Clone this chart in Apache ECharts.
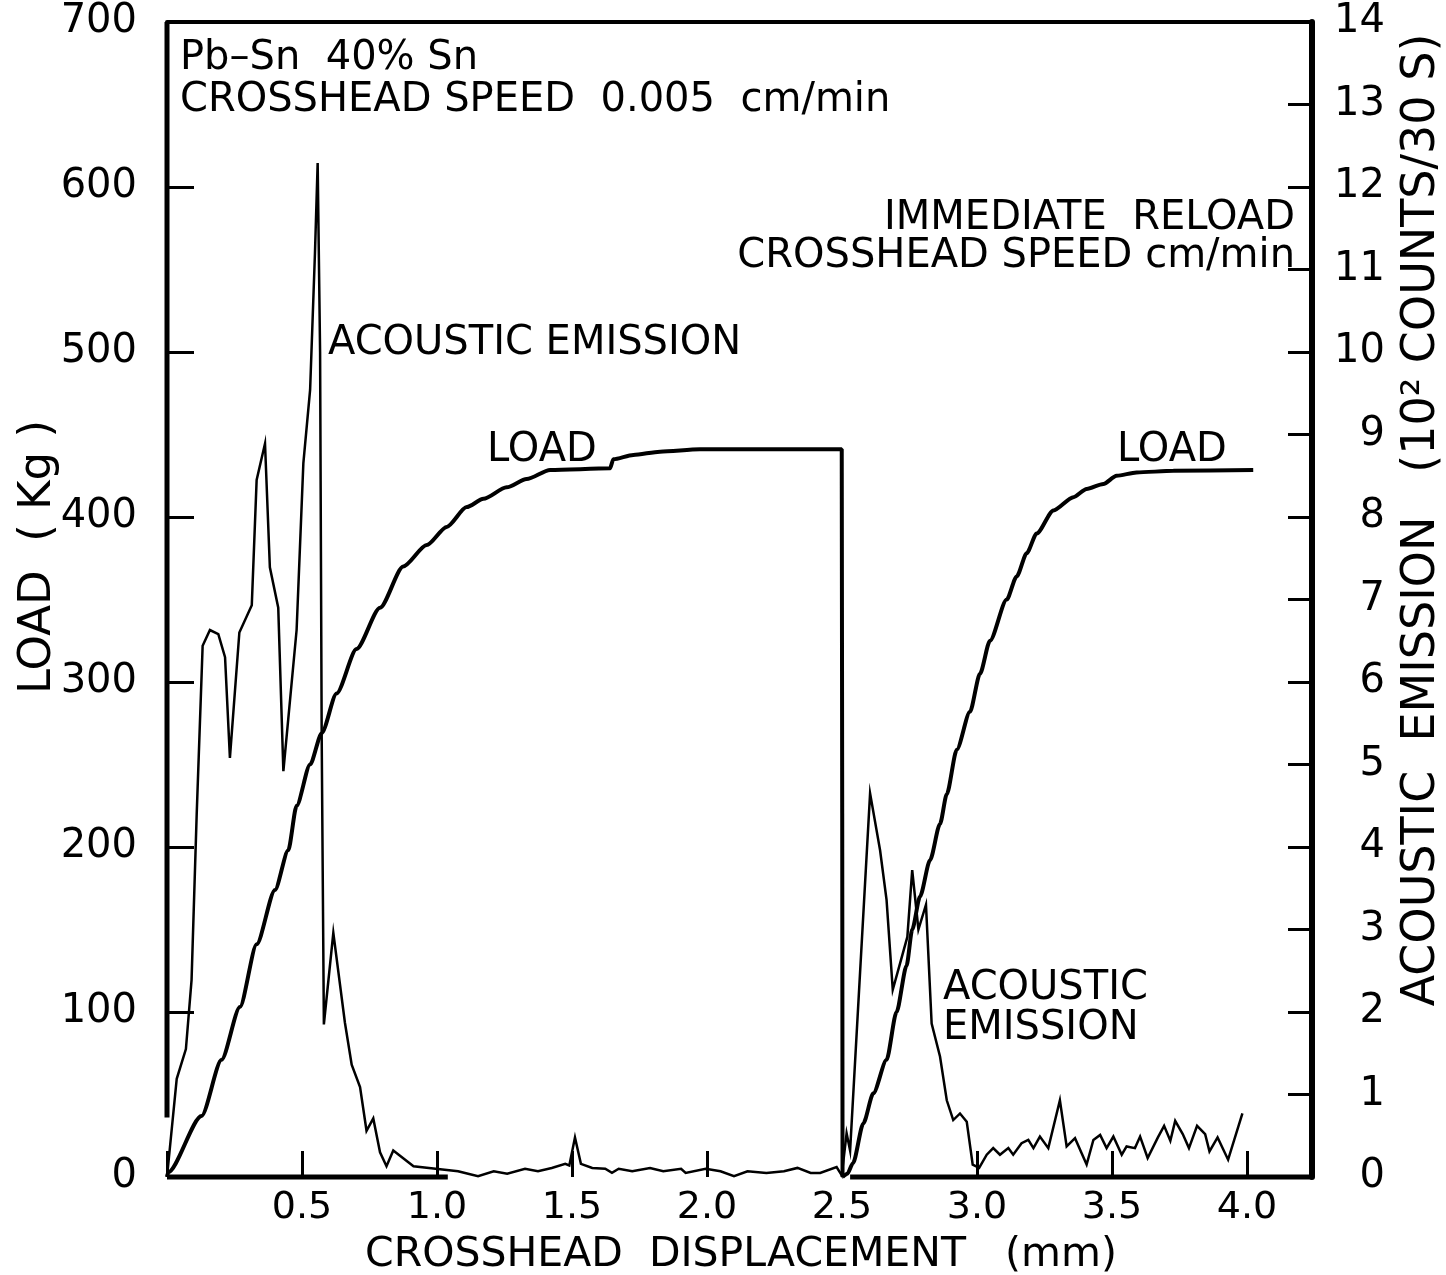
<!DOCTYPE html>
<html>
<head>
<meta charset="utf-8">
<script src="https://cdn.jsdelivr.net/npm/echarts@6/dist/echarts.min.js"></script>
<style>
html,body{margin:0;padding:0;background:#fff;}
#chart{width:1446px;height:1275px;}
</style>
</head>
<body>
<div id="chart"></div>
<script>
// ---- data (crosshead displacement in mm) ----
const xTicks = ['0.5','1.0','1.5','2.0','2.5','3.0','3.5','4.0'];
const loadTicks = [0,100,200,300,400,500,600,700];
const aeTicks = [0,1,2,3,4,5,6,7,8,9,10,11,12,13,14];

// LOAD (kg) - first loading
const load1X = [0,0.005,0.128,0.202,0.270,0.332,0.400,0.449,0.480,0.530,0.573,0.628,0.702,0.789,0.875,0.962,1.036,1.11,1.172,1.258,1.332,1.419,1.641,1.653,1.727,1.826,1.974,2.493,2.499,2.502];
const load1Y = [0,3,37,71,103,141,174,198,225,250,269,293,320,345,370,383,394,406,411,418,423,428.5,429.5,435,437.6,439.6,441,441,441,0];
// LOAD (kg) - immediate reload
const load2X = [2.502,2.52,2.541,2.579,2.616,2.665,2.702,2.739,2.76,2.789,2.826,2.863,2.888,2.925,2.974,3.011,3.048,3.110,3.147,3.184,3.221,3.283,3.357,3.406,3.468,3.517,3.591,3.727,4.023];
const load2Y = [0,2,8.5,32.5,50.7,71,100,128,150,170,192,214,232,259,282,305,325,350,364,378,390,404,412,417,420,425,427,428,428.5];

// ACOUSTIC EMISSION (10^2 counts / 30 s)
const aeX = [0,0.036,0.070,0.091,0.110,0.132,0.159,0.190,0.215,0.233,0.268,0.314,0.332,0.363,0.381,0.412,0.431,0.480,0.505,0.530,0.548,0.558,0.567,0.573,0.581,0.616,0.659,0.684,0.715,0.739,0.764,0.789,0.813,0.838,0.913,0.995,1.078,1.152,1.21,1.26,1.326,1.374,1.425,1.475,1.49,1.511,1.533,1.575,1.623,1.648,1.673,1.723,1.789,1.838,1.904,1.921,1.995,2.05,2.10,2.15,2.22,2.285,2.335,2.384,2.419,2.48,2.499,2.517,2.53,2.604,2.641,2.665,2.688,2.715,2.742,2.76,2.783,2.811,2.832,2.863,2.888,2.912,2.937,2.962,2.984,3.008,3.036,3.06,3.085,3.116,3.134,3.165,3.19,3.209,3.233,3.264,3.307,3.332,3.363,3.406,3.431,3.456,3.48,3.505,3.536,3.554,3.585,3.604,3.632,3.67,3.693,3.716,3.734,3.762,3.785,3.815,3.845,3.861,3.891,3.93,3.983];
const aeY = [0,1.19,1.55,2.39,4.40,6.44,6.63,6.58,6.30,5.08,6.60,6.93,8.45,8.89,7.39,6.90,4.92,6.63,8.65,9.54,11.2,12.29,10.0,5.3,1.85,2.96,1.87,1.36,1.09,0.56,0.71,0.30,0.13,0.32,0.13,0.10,0.07,0.01,0.07,0.04,0.10,0.07,0.11,0.16,0.14,0.48,0.16,0.11,0.10,0.05,0.10,0.07,0.11,0.07,0.10,0.05,0.10,0.07,0.01,0.07,0.05,0.07,0.11,0.05,0.05,0.12,0.02,0.53,0.32,4.65,3.96,3.36,2.27,2.59,2.91,3.72,3.0,3.30,1.86,1.46,0.93,0.69,0.77,0.67,0.15,0.11,0.27,0.35,0.27,0.35,0.27,0.41,0.45,0.35,0.49,0.35,0.93,0.37,0.47,0.15,0.45,0.51,0.35,0.49,0.27,0.37,0.35,0.49,0.23,0.48,0.62,0.44,0.68,0.52,0.35,0.62,0.52,0.31,0.48,0.21,0.77];

// frame pieces (the original's axis lines are broken near the origin / mid-bottom)
const xMax = 4.2407;
const bottomFrameA = [[0,0],[1.04,0]];
const bottomFrameB = [[2.53,0],[xMax,0]];
const leftFrame = [[0,36],[0,700]];

const FONT = 'DejaVu Sans';
const pair = (xs, ys) => xs.map((x, i) => [x, ys[i]]);

const chart = echarts.init(document.getElementById('chart'), null, {renderer:'canvas'});
const frameSeries = (data) => ({
  type:'line', data, symbol:'none', clip:false, silent:true,
  lineStyle:{color:'#000', width:5}, z:5
});
const txt = (x, y, text, extra) => ({type:'text', x, y, z:10,
  style:Object.assign({text, font:'40px '+FONT, fill:'#000'}, extra || {})});
const centered = {align:'center', textAlign:'center', verticalAlign:'middle', textVerticalAlign:'middle'};

chart.setOption({
  animation:false,
  backgroundColor:'#fff',
  grid:{left:167, right:134, top:22, bottom:98, containLabel:false},
  xAxis:[{
    type:'value', min:0, max:xMax, interval:0.5, position:'bottom',
    axisLine:{show:true, onZero:false, lineStyle:{color:'rgba(0,0,0,0)', width:1}},
    axisTick:{show:true, inside:true, length:26, lineStyle:{color:'#000', width:3}},
    axisLabel:{
      margin:12, color:'#000', fontFamily:FONT, fontSize:38, showMaxLabel:false,
      formatter:(v)=>{ const k=Math.round(v*2); return (k>0 && Math.abs(v*2-k)<1e-6) ? xTicks[k-1] : ''; }
    },
    splitLine:{show:false}
  },{
    type:'value', position:'top', min:0, max:xMax,
    axisLine:{show:true, onZero:false, lineStyle:{color:'#000', width:4}},
    axisTick:{show:false}, axisLabel:{show:false}, splitLine:{show:false}
  }],
  yAxis:[{
    // LOAD axis: labels
    type:'value', min:0, max:700, interval:100, position:'left',
    axisLine:{show:false, onZero:false},
    axisTick:{show:true, inside:false, length:27, lineStyle:{color:'rgba(0,0,0,0)', width:3}},
    axisLabel:{show:true, margin:30, color:'#000', fontFamily:FONT, fontSize:40,
      formatter:(v)=> loadTicks.includes(v) ? String(v) : ''},
    splitLine:{show:false}
  },{
    // ACOUSTIC EMISSION axis
    type:'value', min:0, max:14, interval:1, position:'right',
    axisLine:{show:true, onZero:false, lineStyle:{color:'#000', width:6}},
    axisTick:{show:true, inside:true, length:24, lineStyle:{color:'#000', width:3}},
    axisLabel:{margin:73, align:'right', color:'#000', fontFamily:FONT, fontSize:40,
      formatter:(v)=> aeTicks.includes(v) ? String(v) : ''},
    splitLine:{show:false}
  },{
    // LOAD axis: inward ticks (every 100 kg = every 2 AE units)
    type:'value', min:0, max:14, interval:2, position:'left',
    axisLine:{show:false, onZero:false},
    axisTick:{show:true, inside:true, length:27, lineStyle:{color:'#000', width:3}},
    axisLabel:{show:false},
    splitLine:{show:false}
  }],
  series:[
    frameSeries(bottomFrameA),
    frameSeries(bottomFrameB),
    frameSeries(leftFrame),
    {name:'LOAD', type:'line', data:pair(load1X, load1Y), xAxisIndex:0, yAxisIndex:0, symbol:'none', clip:false,
     smooth:0.25, smoothMonotone:'x', lineStyle:{color:'#000', width:4}, z:4},
    {name:'LOAD (reload)', type:'line', data:pair(load2X, load2Y), xAxisIndex:0, yAxisIndex:0, symbol:'none', clip:false,
     smooth:0.25, smoothMonotone:'x', lineStyle:{color:'#000', width:4}, z:4},
    {name:'ACOUSTIC EMISSION', type:'line', data:pair(aeX, aeY), xAxisIndex:0, yAxisIndex:1, symbol:'none', clip:false,
     lineStyle:{color:'#000', width:2.5, join:'miter'}, z:3}
  ],
  graphic:[
    txt(180, 38.5, 'Pb–Sn  40% Sn'),
    txt(180, 80.5, 'CROSSHEAD SPEED  0.005  cm/min'),
    txt(328, 323.5, 'ACOUSTIC EMISSION'),
    txt(487, 430.5, 'LOAD'),
    txt(1295, 198.5, 'IMMEDIATE  RELOAD', {align:'right', textAlign:'right'}),
    txt(1295, 236.5, 'CROSSHEAD SPEED cm/min', {align:'right', textAlign:'right'}),
    txt(1117, 430.5, 'LOAD'),
    txt(943, 968.5, 'ACOUSTIC'),
    txt(943, 1008.5, 'EMISSION'),
    txt(741, 1255, 'CROSSHEAD  DISPLACEMENT   (mm)', Object.assign({font:'41px '+FONT}, centered)),
    Object.assign(txt(38, 557, 'LOAD  ( Kg )', Object.assign({font:'45px '+FONT}, centered)), {rotation:Math.PI/2}),
    Object.assign(txt(1422, 520, 'ACOUSTIC  EMISSION   (10² COUNTS/30 S)', Object.assign({font:'46px '+FONT}, centered)), {rotation:Math.PI/2})
  ]
});
</script>
</body>
</html>
